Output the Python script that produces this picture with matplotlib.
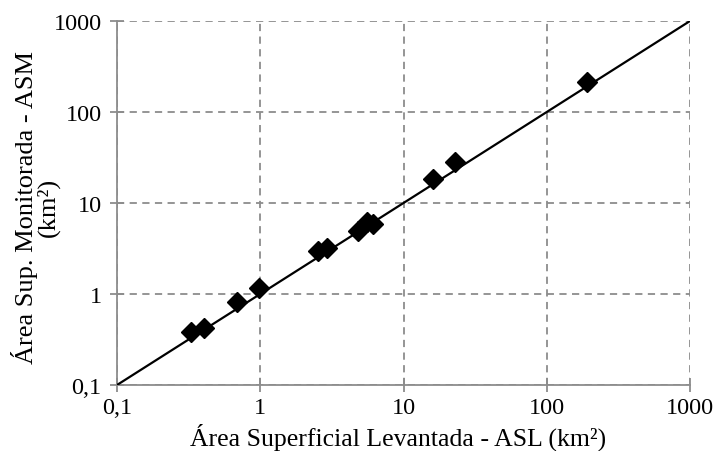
import matplotlib
matplotlib.use("Agg")
import matplotlib.pyplot as plt
from matplotlib.ticker import FixedLocator, FixedFormatter, NullLocator

# ----- data -----
asl = [0.33, 0.405, 0.685, 0.985, 2.54, 2.91, 4.83, 5.53, 6.15, 16.0, 22.9, 192]
asm = [0.385, 0.42, 0.81, 1.16, 2.99, 3.18, 4.96, 6.14, 5.87, 18.4, 28.0, 212]
ref_line = [0.1, 1000]
tick_vals = [0.1, 1, 10, 100, 1000]
tick_labels = ["0,1", "1", "10", "100", "1000"]

plt.rcParams['font.family'] = ['Liberation Serif', 'DejaVu Serif']

fig = plt.figure(figsize=(7.17, 4.52), dpi=100)
ax = fig.add_axes([117/717, 66/452, 573/717, 364/452])

grey = '#8c8c8c'

ax.plot(ref_line, ref_line, color='black', lw=1.6, zorder=3)
ax.plot(asl, asm, linestyle='none', marker='D', markersize=9.8,
        color='black', zorder=4)

ax.set_xscale('log')
ax.set_yscale('log')
ax.set_xlim(0.1, 1000)
ax.set_ylim(0.1, 1000)

for axis in (ax.xaxis, ax.yaxis):
    axis.set_major_locator(FixedLocator(tick_vals))
    axis.set_major_formatter(FixedFormatter(tick_labels))
    axis.set_minor_locator(NullLocator())

ax.grid(True, which='major', color=grey, linestyle=(0, (4, 3)), linewidth=1.3)
ax.set_axisbelow(True)

for side in ('top', 'right'):
    ax.spines[side].set_visible(False)
for side in ('left', 'bottom'):
    ax.spines[side].set_color(grey)
    ax.spines[side].set_linewidth(1.3)

ax.tick_params(axis='both', direction='inout', length=10, width=1.3,
               color=grey, labelsize=17.5)
ax.tick_params(axis='x', pad=4)
ax.tick_params(axis='y', pad=6)

ax.set_xlabel('Área Superficial Levantada - ASL (km²)', fontsize=18.5)
ax.xaxis.set_label_coords(0.49, -0.102)
ax.set_ylabel('Área Sup. Monitorada - ASM\n(km²)', fontsize=19,
              linespacing=0.9)
ax.yaxis.set_label_coords(-0.10, 0.49)

fig.savefig('out.png', dpi=100)
